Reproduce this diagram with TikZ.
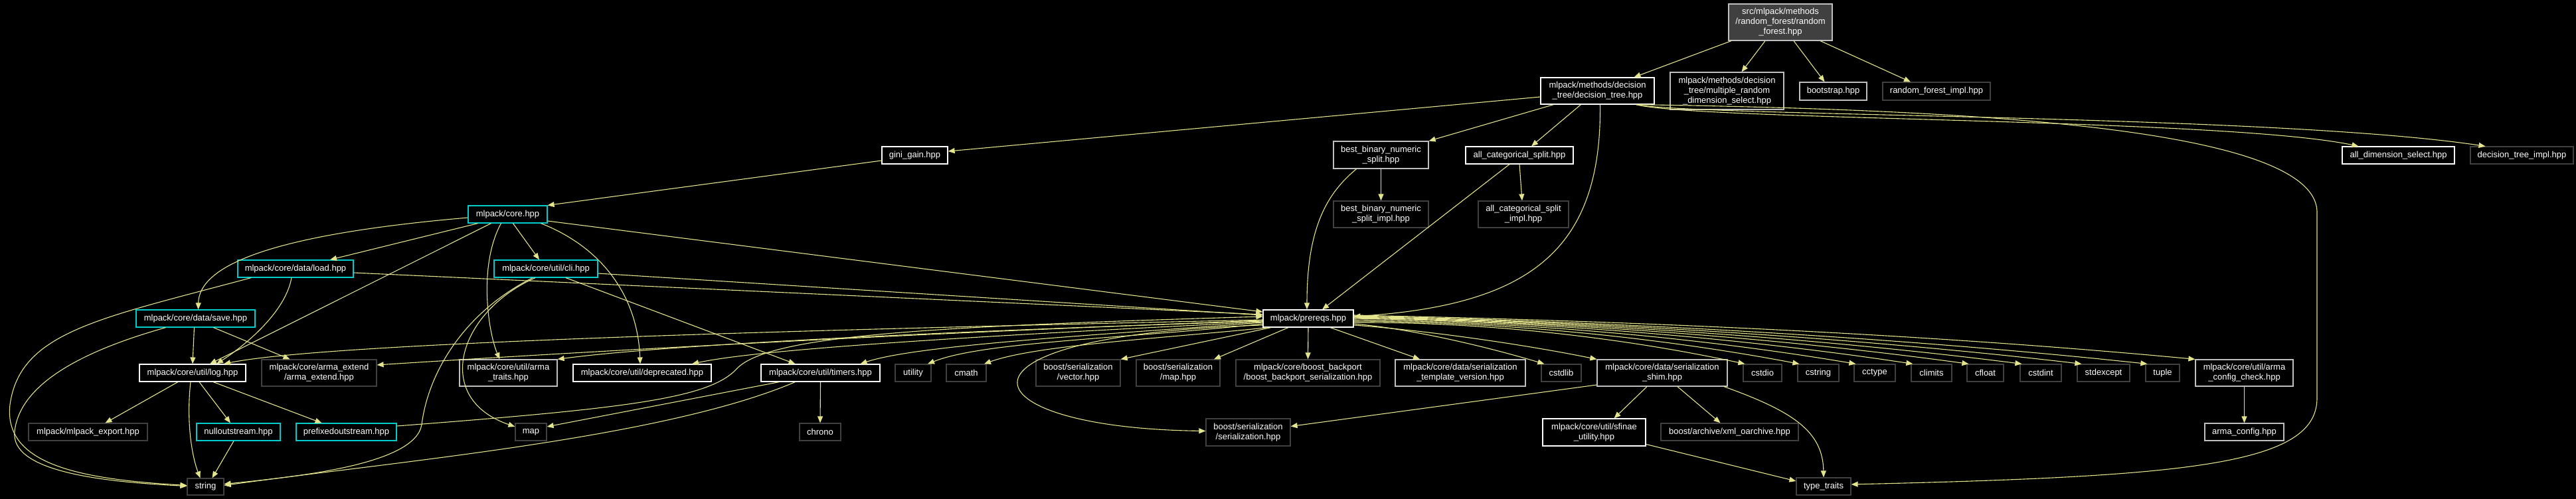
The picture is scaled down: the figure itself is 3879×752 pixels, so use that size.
\documentclass[tikz,border=0pt]{standalone}
\usepackage{fontspec}
\setmainfont{Liberation Sans}
\usetikzlibrary{arrows.meta}
\definecolor{edgec}{RGB}{228,228,140}
\definecolor{cyanb}{RGB}{0,204,204}
\definecolor{lgray}{RGB}{191,191,191}
\definecolor{dgray}{RGB}{64,64,64}
\definecolor{topfill}{RGB}{64,64,64}
\begin{document}
\begin{tikzpicture}[x=1pt,y=-1pt,
  nd/.style={draw, fill=black, text=white, line width=1.2pt, inner sep=0pt, align=center, font=\fontsize{13}{15}\selectfont},
  wb/.style={nd, draw=white},
  gb/.style={nd, draw=lgray},
  db/.style={nd, draw=dgray},
  cb/.style={nd, draw=cyanb},
  lnk/.style={draw=edgec, line width=1.1pt, -{Triangle[length=10pt,width=8pt]}},
]
\fill[black] (0,0) rectangle (3879,752);
\useasboundingbox (0,0) rectangle (3879,752);

% nodes
\node[gb, fill=topfill, minimum width=156pt, minimum height=55pt] (rf) at (2681,33.5) {src/mlpack/methods\\/random\_forest/random\\\_forest.hpp};
\node[wb, minimum width=171pt, minimum height=40pt] (dt) at (2405.5,137) {mlpack/methods/decision\\\_tree/decision\_tree.hpp};
\node[gb, minimum width=171pt, minimum height=56pt] (mrds) at (2600.5,137) {mlpack/methods/decision\\\_tree/multiple\_random\\\_dimension\_select.hpp};
\node[gb, minimum width=101pt, minimum height=27pt] (bootstrap) at (2760.5,137.5) {bootstrap.hpp};
\node[db, minimum width=162pt, minimum height=27pt] (rfimpl) at (2916,137.5) {random\_forest\_impl.hpp};
\node[wb, minimum width=99pt, minimum height=26pt] (gini) at (1377.5,234) {gini\_gain.hpp};
\node[gb, minimum width=143pt, minimum height=41pt] (bb) at (2079.5,233.5) {best\_binary\_numeric\\\_split.hpp};
\node[wb, minimum width=162pt, minimum height=26pt] (ac) at (2288,234) {all\_categorical\_split.hpp};
\node[wb, minimum width=169pt, minimum height=26pt] (adim) at (3611.5,234) {all\_dimension\_select.hpp};
\node[db, minimum width=155pt, minimum height=26pt] (dtimpl) at (3797.5,234) {decision\_tree\_impl.hpp};
\node[db, minimum width=143pt, minimum height=40pt] (bbimpl) at (2079.5,323) {best\_binary\_numeric\\\_split\_impl.hpp};
\node[db, minimum width=136pt, minimum height=40pt] (acimpl) at (2294,323) {all\_categorical\_split\\\_impl.hpp};
\node[cb, minimum width=119pt, minimum height=26pt] (core) at (764.5,323) {mlpack/core.hpp};
\node[cb, minimum width=174pt, minimum height=26pt] (load) at (445,405) {mlpack/core/data/load.hpp};
\node[cb, minimum width=156pt, minimum height=26pt] (cli) at (822,405) {mlpack/core/util/cli.hpp};
\node[cb, minimum width=179pt, minimum height=26pt] (save) at (294.5,480) {mlpack/core/data/save.hpp};
\node[wb, minimum width=136pt, minimum height=26pt] (prereqs) at (1970,480) {mlpack/prereqs.hpp};
\node[wb, minimum width=160pt, minimum height=26pt] (log) at (290,562) {mlpack/core/util/log.hpp};
\node[db, minimum width=173pt, minimum height=40pt] (aext) at (480.5,562) {mlpack/core/arma\_extend\\/arma\_extend.hpp};
\node[gb, minimum width=147pt, minimum height=40pt] (atraits) at (765.5,562) {mlpack/core/util/arma\\\_traits.hpp};
\node[wb, minimum width=208pt, minimum height=26pt] (depr) at (967,562) {mlpack/core/util/deprecated.hpp};
\node[wb, minimum width=179pt, minimum height=26pt] (timers) at (1235.5,562) {mlpack/core/util/timers.hpp};
\node[db, minimum width=54pt, minimum height=26pt] (utility) at (1375,562) {utility};
\node[db, minimum width=60pt, minimum height=26pt] (cmath) at (1455,562) {cmath};
\node[db, minimum width=127pt, minimum height=40pt] (bvec) at (1623.5,562) {boost/serialization\\/vector.hpp};
\node[db, minimum width=126pt, minimum height=40pt] (bmap) at (1774,562) {boost/serialization\\/map.hpp};
\node[db, minimum width=217pt, minimum height=40pt] (backport) at (1969.5,562) {mlpack/core/boost\_backport\\/boost\_backport\_serialization.hpp};
\node[gb, minimum width=196pt, minimum height=40pt] (stv) at (2199,562) {mlpack/core/data/serialization\\\_template\_version.hpp};
\node[db, minimum width=60pt, minimum height=26pt] (cstdlib) at (2351,562) {cstdlib};
\node[gb, minimum width=196pt, minimum height=40pt] (shim) at (2503,562) {mlpack/core/data/serialization\\\_shim.hpp};
\node[db, minimum width=58pt, minimum height=26pt] (cstdio) at (2654,562) {cstdio};
\node[db, minimum width=62pt, minimum height=26pt] (cstring) at (2738,562) {cstring};
\node[db, minimum width=62pt, minimum height=26pt] (cctype) at (2823,562) {cctype};
\node[db, minimum width=61pt, minimum height=26pt] (climits) at (2908.5,562) {climits};
\node[db, minimum width=55pt, minimum height=26pt] (cfloat) at (2989.5,562) {cfloat};
\node[db, minimum width=62pt, minimum height=26pt] (cstdint) at (3073,562) {cstdint};
\node[db, minimum width=79pt, minimum height=26pt] (stdexcept) at (3167.5,562) {stdexcept};
\node[db, minimum width=51pt, minimum height=26pt] (tuple) at (3256.5,562) {tuple};
\node[gb, minimum width=147pt, minimum height=40pt] (acc) at (3379.5,562) {mlpack/core/util/arma\\\_config\_check.hpp};
\node[db, minimum width=179pt, minimum height=26pt] (mexp) at (132.5,651) {mlpack/mlpack\_export.hpp};
\node[cb, minimum width=126pt, minimum height=26pt] (nullout) at (359,651) {nulloutstream.hpp};
\node[cb, minimum width=151pt, minimum height=26pt] (prefixed) at (521.5,651) {prefixedoutstream.hpp};
\node[db, minimum width=47pt, minimum height=26pt] (map) at (799.5,651) {map};
\node[db, minimum width=62pt, minimum height=26pt] (chrono) at (1235,651) {chrono};
\node[db, minimum width=127pt, minimum height=41pt] (bser) at (1879.5,651.5) {boost/serialization\\/serialization.hpp};
\node[wb, minimum width=155pt, minimum height=41pt] (sfinae) at (2400.5,651.5) {mlpack/core/util/sfinae\\\_utility.hpp};
\node[db, minimum width=207pt, minimum height=26pt] (xml) at (2604.5,651) {boost/archive/xml\_oarchive.hpp};
\node[gb, minimum width=119pt, minimum height=26pt] (aconf) at (3379.5,651) {arma\_config.hpp};
\node[db, minimum width=55pt, minimum height=25pt] (string) at (309.5,733.5) {string};
\node[db, minimum width=82pt, minimum height=26pt] (tt) at (2746,733) {type\_traits};

% top
\draw[lnk] ([xshift=-74pt]rf.south) -- ([xshift=55pt]dt.north);
\draw[lnk] ([xshift=-23pt]rf.south) -- ([xshift=22pt]mrds.north);
\draw[lnk] ([xshift=20pt]rf.south) -- ([xshift=-13pt]bootstrap.north);
\draw[lnk] ([xshift=60pt]rf.south) -- ([xshift=-39pt]rfimpl.north);

% decision tree
\draw[lnk] ([yshift=-9pt]dt.west) -- ([yshift=6pt]gini.east);
\draw[lnk] ([xshift=-66pt]dt.south) -- (bb.north east);
\draw[lnk] ([xshift=-25pt]dt.south) -- ([xshift=18pt]ac.north);
\draw[lnk] ([xshift=4pt]dt.south) .. controls (2412,380) and (2300,460) .. ([yshift=3pt]prereqs.east);
\draw[lnk] ([xshift=58pt]dt.south) .. controls (2560,182) and (3350,178) .. ([xshift=-60pt]adim.north);
\draw[lnk] ([xshift=58pt]dt.south) .. controls (2560,176) and (3420,172) .. ([xshift=-55pt]dtimpl.north);
\draw[lnk] ([xshift=58pt]dt.south) .. controls (2950,165) and (3489,190) .. (3489,320) -- (3489,600) .. controls (3489,700) and (3300,718) .. ([yshift=3pt]tt.east);

\draw[lnk] ([yshift=-8pt]gini.west) -- (core.north east);

\draw[lnk] (bb.south) -- (bbimpl.north);
\draw[lnk] ([xshift=-37pt]bb.south) .. controls (2000,290) and (1968,340) .. ([xshift=-2pt]prereqs.north);
\draw[lnk] (ac.south) -- ([xshift=-2pt]acimpl.north);
\draw[lnk] ([xshift=-15pt]ac.south) -- ([xshift=21pt]prereqs.north);

% core
\draw[lnk] ([xshift=-45pt]core.south) -- ([xshift=52pt]load.north);
\draw[lnk] ([yshift=-5pt]core.west) .. controls (450,350) and (300,390) .. ([xshift=4pt]save.north);
\draw[lnk] ([xshift=-25pt]core.south) -- ([xshift=26pt]log.north);
\draw[lnk] ([xshift=-10pt]core.south) .. controls (720,400) and (735,500) .. ([xshift=-13pt]atraits.north);
\draw[lnk] ([xshift=8pt]core.south) -- ([xshift=-10pt]cli.north);
\draw[lnk] ([xshift=50pt]core.south) .. controls (900,370) and (960,440) .. ([xshift=-3pt]depr.north);
\draw[lnk] ([yshift=-10pt]core.east) -- ([yshift=10pt]prereqs.west);

% load
\draw[lnk] ([xshift=-67pt]load.south) .. controls (150,480) and (30,500) .. (15,610) .. controls (5,700) and (120,722) .. ([yshift=2pt]string.west);
\draw[lnk] ([xshift=-6pt]load.south) .. controls (430,470) and (370,520) .. ([xshift=36pt]log.north);
\draw[lnk] ([yshift=-6pt]load.east) -- ([yshift=6pt]prereqs.west);

% save
\draw[lnk] ([xshift=-45pt]save.south) .. controls (120,530) and (30,580) .. (22,650) .. controls (15,710) and (150,726) .. ([yshift=1pt]string.west);
\draw[lnk] ([xshift=-2pt]save.south) -- (log.north);
\draw[lnk] ([xshift=27pt]save.south) -- ([xshift=-44pt]aext.north);

% log
\draw[lnk] ([xshift=-22pt]log.south) -- ([xshift=26pt]mexp.north);
\draw[lnk] ([xshift=10pt]log.south) -- ([xshift=-12pt]nullout.north);
\draw[lnk] ([xshift=31pt]log.south) -- ([xshift=-37pt]prefixed.north);
\draw[lnk] ([xshift=-3pt]log.south) .. controls (280,640) and (290,690) .. ([xshift=-8pt]string.north);
\draw[lnk] ([xshift=-7pt]nullout.south) -- ([xshift=10pt]string.north);

\draw[lnk] ([yshift=9pt]prefixed.east) .. controls (950,615) and (1070,600) .. (1110,555) .. controls (1160,505) and (1400,492) .. ([yshift=3pt]prereqs.west);

% cli
\draw[lnk] ([yshift=-7pt]cli.east) -- ([yshift=5pt]prereqs.west);
\draw[lnk] ([xshift=30pt]cli.south) -- ([xshift=-38pt]timers.north);
\draw[lnk] ([xshift=-16pt]cli.south) .. controls (690,470) and (650,600) .. ([yshift=8pt]map.west);
\draw[lnk] ([xshift=-20pt]cli.south) .. controls (700,470) and (645,560) .. (635,640) .. controls (625,700) and (450,718) .. ([yshift=4pt]string.east);

% timers
\draw[lnk] (timers.south) -- (chrono.north);
\draw[lnk] ([xshift=-62pt]timers.south) -- ([yshift=8pt]map.east);
\draw[lnk] ([xshift=-38pt]timers.south) .. controls (1000,660) and (600,695) .. ([yshift=2pt]string.east);

% prereqs left fan
\draw[lnk] ([yshift=-2pt]prereqs.west) .. controls (1300,495) and (500,515) .. ([xshift=47pt]log.north);
\draw[lnk] ([yshift=-3pt]prereqs.west) .. controls (1300,505) and (800,535) .. ([yshift=12pt]aext.east);
\draw[lnk] ([yshift=-4pt]prereqs.west) .. controls (1400,500) and (1000,520) .. (atraits.north east);
\draw[lnk] ([yshift=-5pt]prereqs.west) .. controls (1500,505) and (1150,525) .. ([xshift=75pt]depr.north);
\draw[lnk] ([yshift=-6pt]prereqs.west) .. controls (1650,505) and (1380,520) .. ([xshift=60pt]timers.north);
\draw[lnk] ([yshift=-8pt]prereqs.west) .. controls (1700,510) and (1480,515) .. ([xshift=22pt]utility.north);
\draw[lnk] ([xshift=8pt]prereqs.south west) .. controls (1750,510) and (1560,520) .. ([xshift=27pt]cmath.north);
\draw[lnk] ([yshift=-10pt]prereqs.west) .. controls (1400,505) and (1450,645) .. ([yshift=2pt]bser.west);

% prereqs bottom
\draw[lnk] ([xshift=-56pt]prereqs.south) -- (bvec.north east);
\draw[lnk] ([xshift=-30pt]prereqs.south) -- ([xshift=54pt]bmap.north);
\draw[lnk] (prereqs.south) -- (backport.north);
\draw[lnk] ([xshift=33pt]prereqs.south) -- ([xshift=-61pt]stv.north);

% prereqs right fan
\draw[lnk] ([yshift=-8pt]prereqs.east) .. controls (2120,495) and (2230,520) .. ([xshift=5pt]cstdlib.north west);
\draw[lnk] ([yshift=-10pt]prereqs.east) .. controls (2150,498) and (2300,520) .. (shim.north west);
\draw[lnk] ([yshift=-6pt]prereqs.east) .. controls (2243,485) and (2449,510) .. ([xshift=3pt]cstdio.north west);
\draw[lnk] ([yshift=-4pt]prereqs.east) .. controls (2273,485) and (2507,510) .. ([xshift=3pt]cstring.north west);
\draw[lnk] ([yshift=-2pt]prereqs.east) .. controls (2303,485) and (2567,510) .. ([xshift=3pt]cctype.north west);
\draw[lnk] (prereqs.east) .. controls (2333,485) and (2627,510) .. ([xshift=3pt]climits.north west);
\draw[lnk] ([yshift=1pt]prereqs.east) .. controls (2362,485) and (2685,510) .. ([xshift=3pt]cfloat.north west);
\draw[lnk] ([yshift=2pt]prereqs.east) .. controls (2390,485) and (2743,510) .. ([xshift=3pt]cstdint.north west);
\draw[lnk] ([yshift=3pt]prereqs.east) .. controls (2422,485) and (2806,510) .. ([xshift=7pt]stdexcept.north west);
\draw[lnk] ([yshift=4pt]prereqs.east) .. controls (2456,485) and (2874,510) .. ([xshift=3pt]tuple.north west);
\draw[lnk] ([yshift=5pt]prereqs.east) .. controls (2480,484) and (2920,505) .. (acc.north west);

% shim
\draw[lnk] ([xshift=-23pt]shim.south) -- ([xshift=30pt]sfinae.north);
\draw[lnk] ([xshift=23pt]shim.south) -- ([xshift=-14pt]xml.north);
\draw[lnk] ([xshift=93pt]shim.south) .. controls (2700,620) and (2745,650) .. (tt.north);
\draw[lnk] ([yshift=-18pt]shim.west) -- ([yshift=9pt]bser.east);
\draw[lnk] ([yshift=-18pt]sfinae.east) -- ([yshift=8pt]tt.west);
\draw[lnk] (acc.south) -- (aconf.north);
\end{tikzpicture}
\end{document}
